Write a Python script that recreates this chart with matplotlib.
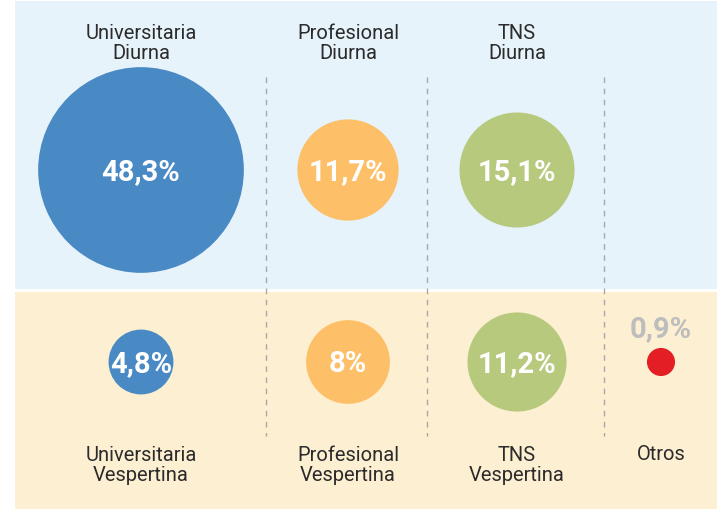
import numpy as np
import matplotlib
matplotlib.use("Agg")
import matplotlib.pyplot as plt
from matplotlib.patches import Circle, Rectangle

# Data
top_labels = ["Universitaria\nDiurna", "Profesional\nDiurna", "TNS\nDiurna"]
top_values = [48.3, 11.7, 15.1]
top_texts = ["48,3%", "11,7%", "15,1%"]
bottom_labels = ["Universitaria\nVespertina", "Profesional\nVespertina", "TNS\nVespertina", "Otros"]
bottom_values = [4.8, 8.0, 11.2, 0.9]
bottom_texts = ["4,8%", "8%", "11,2%", "0,9%"]

colors = ["#4A8AC4", "#FDC068", "#B7C97D", "#E31E24"]

plt.rcParams['font.family'] = ['Roboto', 'DejaVu Sans']

W, H = 720, 510
fig = plt.figure(figsize=(7.2, 5.1), dpi=100)
ax = fig.add_axes([0, 0, 1, 1])
ax.set_xlim(0, W)
ax.set_ylim(H, 0)
ax.set_aspect('equal')
ax.axis('off')

# panels
ax.add_patch(Rectangle((15, 2), 702, 288, facecolor="#E6F3FA", edgecolor="none"))
ax.add_patch(Rectangle((15, 293), 702, 217, facecolor="#FDEFD1", edgecolor="none"))

# separators
for xs in [266, 427, 604]:
    ax.plot([xs, xs], [78, 437], color="#A8A8A8", lw=1, ls=(0, (4, 4)))

col_x = [141, 348, 517, 661]
k = 14.8  # pixel radius per sqrt(percent)
top_y, bot_y = 171, 363
lab_fs = 14.5
pct_fs = 21
lab_col = "#2B2B2B"

for i, (lab, v, t) in enumerate(zip(top_labels, top_values, top_texts)):
    x = col_x[i]
    ax.add_patch(Circle((x, top_y), k * np.sqrt(v), facecolor=colors[i], edgecolor="none"))
    ax.text(x, top_y + 1, t, ha="center", va="center", color="white", fontsize=pct_fs, fontweight="bold")
    ax.text(x, 43.5, lab, ha="center", va="center", color=lab_col, fontsize=lab_fs, linespacing=1.02)

for i, (lab, v, t) in enumerate(zip(bottom_labels, bottom_values, bottom_texts)):
    x = col_x[i]
    ax.add_patch(Circle((x, bot_y), k * np.sqrt(v), facecolor=colors[i], edgecolor="none"))
    if i < 3:
        ax.text(x, bot_y + 1, t, ha="center", va="center", color="white", fontsize=pct_fs, fontweight="bold")
    else:
        ax.text(x, 329, t, ha="center", va="center", color="#BDBDBD", fontsize=pct_fs, fontweight="bold")
    if "\n" in lab:
        ax.text(x, 465.5, lab, ha="center", va="center", color=lab_col, fontsize=lab_fs, linespacing=1.02)
    else:
        ax.text(x, 455, lab, ha="center", va="center", color=lab_col, fontsize=lab_fs)

fig.savefig("out.png", dpi=100)
